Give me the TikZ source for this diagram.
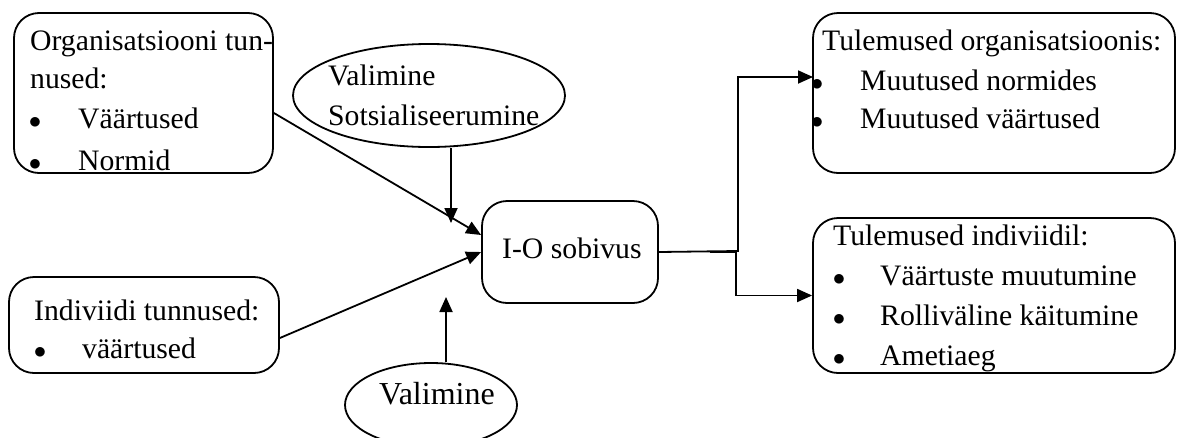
\documentclass[tikz,border=0pt]{standalone}
\usepackage{fontspec}
\setmainfont{Liberation Serif}
\usetikzlibrary{arrows.meta,shapes.geometric,calc}
\tikzset{
  frame/.style={draw, line width=1.8pt, rounded corners=25pt, inner sep=0pt},
  oval/.style={draw, ellipse, line width=1.8pt, inner sep=0pt},
  txt/.style={inner sep=0pt, anchor=base west, font=\fontsize{29.7}{38}\selectfont},
  bul/.style={inner sep=0pt, anchor=base, font=\fontsize{29.7}{38}\selectfont},
  link/.style={line width=1.8pt, -{Triangle[length=15pt,width=13pt]}},
  wire/.style={line width=1.8pt},
}
\newcommand{\blt}{$\bullet$}
\begin{document}
\begin{tikzpicture}[x=1pt,y=-1pt]
\useasboundingbox (0,0) rectangle (1177,437);

% boxes
\node[frame, minimum width=259pt, minimum height=160pt] (org) at (143.5,93) {};
\node[frame, minimum width=270pt, minimum height=96pt] (ind) at (144,325) {};
\node[frame, minimum width=176pt, minimum height=102pt] (io) at (570,252) {};
\node[frame, minimum width=362pt, minimum height=160pt] (resorg) at (994,93) {};
\node[frame, minimum width=362pt, minimum height=155pt] (resind) at (994,295.5) {};

% ovals
\node[oval, minimum width=272pt, minimum height=103pt] (soc) at (429,95.5) {};
\node[oval, minimum width=172pt, minimum height=84pt] (val) at (431,405) {};

% texts: organisation
\node[txt] (t1) at (30,50) {Organisatsiooni tun-};
\node[txt] (t2) at (30,88) {nused:};
\node[bul] (b1) at (35,128) {\blt};
\node[txt] (t3) at (78,128) {Väärtused};
\node[bul] (b2) at (35,170) {\blt};
\node[txt] (t4) at (78,170) {Normid};

% texts: individual
\node[txt] (t5) at (34,320) {Indiviidi tunnused:};
\node[bul] (b3) at (40,358) {\blt};
\node[txt] (t6) at (82,358) {väärtused};

% texts: ovals
\node[txt] (t7) at (328,85) {Valimine};
\node[txt] (t8) at (328,125) {Sotsialiseerumine};
\node[txt, font=\fontsize{32}{38}\selectfont] (t9) at (379,404) {Valimine};

% text: fit
\node[txt] (t10) at (502,258) {I-O sobivus};

% texts: outcomes in organisation
\node[txt] (t11) at (822,50) {Tulemused organisatsioonis:};
\node[bul] (b4) at (817,90) {\blt};
\node[txt] (t12) at (860,90) {Muutused normides};
\node[bul] (b5) at (817,128) {\blt};
\node[txt] (t13) at (860,128) {Muutused väärtused};

% texts: outcomes for the individual
\node[txt] (t14) at (833,245) {Tulemused indiviidil:};
\node[bul] (b6) at (839,285) {\blt};
\node[txt] (t15) at (880,285) {Väärtuste muutumine};
\node[bul] (b7) at (839,325) {\blt};
\node[txt] (t16) at (880,325) {Rolliväline käitumine};
\node[bul] (b8) at (839,365) {\blt};
\node[txt] (t17) at (880,365) {Ametiaeg};

% free ends
\coordinate (socend) at (451,223);
\coordinate (valend) at (446,297);
\coordinate (splitA) at (738,251);
\coordinate (splitB) at (736,252);
\coordinate (splitB0) at (710,252);
\coordinate (topend) at (813,77);

% connectors
\draw[link] ([yshift=-20pt]org.east) -- ([yshift=17pt]io.west);
\draw[link] ([yshift=-13pt]ind.east) -- (io.west);
\draw[link] ([xshift=22pt]soc.south) -- (socend);
\draw[link] ([xshift=15pt]val.north) -- (valend);
\draw[link] (io.east) -- (splitA) |- (topend);
\draw[wire] (splitB0) -- (splitB);
\draw[link] (splitB) |- (resind.west);
\end{tikzpicture}
\end{document}
